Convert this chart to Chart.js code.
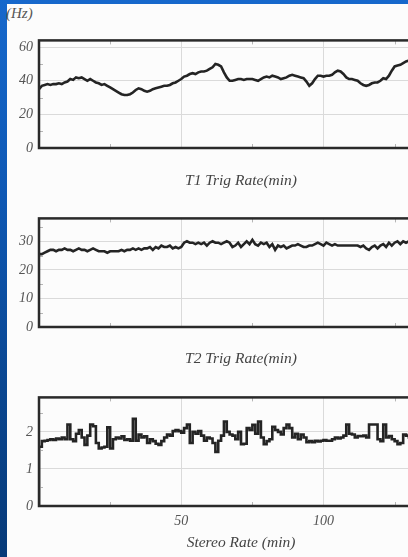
<!DOCTYPE html>
<html lang="en">
<head>
<meta charset="UTF-8">
<title>Trigger Rates</title>
<script src="https://cdn.jsdelivr.net/npm/chart.js"></script>
<style>
    html, body { margin: 0; padding: 0; }
    body {
        width: 408px; height: 557px; overflow: hidden; position: relative;
        background: linear-gradient(to bottom, #1668cc 0%, #0e58b4 35%, #0a4690 70%, #073a78 100%);
    }
    #sheet { position: absolute; left: 7px; top: 4px; right: 0; bottom: 0; background: #fcfcfc; }
    canvas { position: absolute; left: 7px; }
    #unit { position: absolute; left: 6px; top: 5px; font: italic 15px "Liberation Serif", serif; color: #555; }
</style>
</head>
<body>
    <div id="sheet"></div>
    <div id="unit">(Hz)</div>
    <canvas id="t1Chart" width="436" height="166" style="top:26px"></canvas>
    <canvas id="t2Chart" width="436" height="166" style="top:204px"></canvas>
    <canvas id="stereoChart" width="436" height="171" style="top:383px"></canvas>

    <script>
        // time axis (minutes)
        const minutes = Array.from({ length: 133 }, (_, i) => i);
        const xMax = 142;
        const xLabelValues = [50, 100];
        const xGridValues = [50, 100];
        const xMinorValues = [25, 75, 125];

        // T1 trigger rate (Hz)
        const t1Rate = [
            35, 37, 37.5, 38, 37.5, 38, 38, 38.5, 38, 39,
            39.5, 41, 40.5, 42, 41.5, 42, 41, 40, 41, 40,
            39, 38.5, 37.5, 38, 37, 36, 35, 34, 33, 32,
            31.5, 31.5, 32, 33, 34.5, 35.5, 35, 34, 33.5, 34,
            35, 35.5, 36, 36.5, 37, 37, 37.5, 38.5, 39, 40,
            41, 42.5, 43, 44, 44.5, 44, 45, 45.5, 45.5, 46,
            47, 48, 50, 49.5, 48.5, 45, 42, 40, 40, 40.5,
            41, 41, 40.5, 41, 41, 41, 40.5, 40, 41, 42,
            42.5, 42, 43, 42.5, 42, 41, 41.5, 42, 43, 43.5,
            43, 42.5, 42, 41.5, 39.5, 37, 38.5, 41, 43, 43,
            42.5, 43, 43, 43.5, 45, 46, 45.5, 44, 42, 41,
            41, 40.5, 40, 38.5, 37.5, 37, 37.5, 38.5, 39, 39,
            40, 41.5, 41, 43, 46, 48.5, 49, 49.5, 50.5, 51.5,
            52, 52, 52.5
        ];

        // T2 trigger rate (Hz)
        const t2Rate = [
            25.5, 25.5, 26, 26.5, 27, 27, 26.5, 27, 27, 27.5,
            27, 27, 26.5, 27, 27.5, 27, 27, 26.5, 27, 27.5,
            27, 26.5, 26.5, 26.5, 26, 26.5, 26.5, 26.5, 26.5, 27,
            26.5, 27, 27, 27.5, 27, 27.5, 27, 27.5, 27.5, 28,
            27, 28, 27.5, 28.5, 28, 28, 28.5, 27.5, 28, 27.5,
            28, 29.5, 30, 29.5, 29.5, 29, 29.5, 29, 29.5, 28.5,
            29.5, 30, 29.5, 29.5, 29, 29.5, 30, 29.5, 28, 28.5,
            29.5, 28, 29, 30, 29, 30.5, 29, 28.5, 29.5, 29,
            29.5, 28, 29, 27, 28.5, 28, 28.5, 27.5, 28, 28.5,
            28.5, 29, 28.5, 28, 28, 28.5, 28.5, 29, 29.5, 29,
            28.5, 29.5, 29, 28.5, 29, 28.5, 28.5, 28.5, 28.5, 28.5,
            28.5, 28.5, 28.5, 28, 28.5, 27.5, 27, 28, 28.5, 27.5,
            28.5, 29, 28, 29.5, 28.5, 29.5, 30, 29, 30, 29.5,
            30, 30, 30
        ];

        // Stereo rate (Hz)
        const stereoRate = [
            0, 1.6, 1.75, 1.76, 1.78, 1.8, 1.78, 1.82, 1.8, 1.85,
            1.8, 2.2, 1.8, 1.75, 1.95, 2.05, 1.85, 1.65, 1.9, 2.2,
            2.15, 1.7, 1.55, 1.58, 1.6, 2.12, 1.55, 1.8, 1.85, 1.82,
            1.88, 1.78, 1.8, 1.76, 2.35, 1.76, 1.93, 1.85, 1.88, 1.7,
            1.8, 1.75, 1.68, 1.65, 1.75, 1.85, 1.93, 1.9, 2.02, 2.05,
            2.02, 1.98, 2.1, 2.2, 1.7, 2.0, 1.95, 2.02, 1.9, 1.76,
            1.85, 1.82, 1.7, 1.46, 1.76, 1.9, 2.28, 2.0, 1.93, 1.9,
            1.8, 2.0, 1.67, 1.68, 2.1, 2.05, 2.19, 1.95, 2.28, 1.85,
            1.67, 1.75, 1.8, 2.14, 2.05, 2.0, 1.93, 2.1, 2.2, 2.1,
            1.85, 1.95, 1.8, 1.93, 1.85, 1.72, 1.75, 1.72, 1.76, 1.74,
            1.76, 1.78, 1.76, 1.76, 1.8, 1.85, 1.82, 1.85, 1.9, 2.2,
            1.95, 1.93, 1.85, 1.89, 1.88, 1.9, 1.85, 2.2, 2.2, 2.2,
            1.8, 1.75, 2.2, 1.85, 1.89, 1.8, 1.75, 1.67, 1.7, 1.93,
            1.9, 1.85, 1.8
        ];

        const serif = '"Liberation Serif", "DejaVu Serif", serif';
        const tickFont = { family: serif, style: 'italic', size: 14 };
        const titleFont = { family: serif, style: 'italic', size: 15.5 };

        // dark frame around the plot plus small inner minor ticks
        const framePlugin = {
            id: 'frame',
            afterDatasetsDraw(chart, args, opts) {
                const { ctx, chartArea: a, scales } = chart;
                ctx.save();
                ctx.strokeStyle = '#b5b5b5';
                ctx.lineWidth = 1;
                ctx.beginPath();
                xMinorValues.forEach(v => {
                    const px = Math.round(scales.x.getPixelForValue(v)) + 0.5;
                    ctx.moveTo(px, a.bottom); ctx.lineTo(px, a.bottom - 4);
                    ctx.moveTo(px, a.top); ctx.lineTo(px, a.top + 4);
                });
                (opts.yMinor || []).forEach(v => {
                    const py = Math.round(scales.y.getPixelForValue(v)) + 0.5;
                    ctx.moveTo(a.left, py); ctx.lineTo(a.left + 4, py);
                });
                ctx.stroke();
                ctx.strokeStyle = '#2a2a2a';
                ctx.lineWidth = 2.5;
                ctx.strokeRect(a.left, a.top, a.right - a.left, a.bottom - a.top);
                ctx.restore();
            }
        };

        function makePanel(canvasId, values, cfg) {
            const points = minutes.map((m, i) => ({ x: m, y: values[i] }));
            return new Chart(document.getElementById(canvasId), {
                type: 'line',
                data: {
                    datasets: [{
                        data: points,
                        borderColor: '#242424',
                        borderWidth: 2.6,
                        pointRadius: 0,
                        tension: 0,
                        fill: false,
                        stepped: cfg.stepped || false
                    }]
                },
                options: {
                    responsive: false,
                    animation: false,
                    layout: { padding: { top: 10, right: 0, bottom: 0, left: 0 } },
                    plugins: {
                        legend: { display: false },
                        tooltip: { enabled: false },
                        frame: { yMinor: cfg.yMinor }
                    },
                    scales: {
                        x: {
                            type: 'linear',
                            min: 0,
                            max: xMax,
                            afterFit: s => { s.height = cfg.xHeight; },
                            border: { display: false },
                            grid: {
                                drawTicks: false,
                                color: c => (c.tick && xGridValues.includes(c.tick.value)) ? '#dadada' : 'rgba(0,0,0,0)'
                            },
                            ticks: {
                                display: cfg.xLabels,
                                stepSize: 25,
                                includeBounds: false,
                                autoSkip: false,
                                maxRotation: 0,
                                padding: 7,
                                color: '#555',
                                font: tickFont,
                                callback: v => xLabelValues.includes(v) ? String(v) : ''
                            },
                            title: {
                                display: true,
                                text: cfg.title,
                                color: '#444',
                                font: titleFont,
                                padding: { top: 0, bottom: 2 }
                            }
                        },
                        y: {
                            min: 0,
                            max: cfg.yMax,
                            afterFit: s => { s.width = 32; },
                            border: { display: false },
                            grid: { drawTicks: false, color: '#dadada' },
                            ticks: {
                                stepSize: cfg.yStep,
                                includeBounds: false,
                                padding: 6,
                                color: '#555',
                                font: tickFont
                            }
                        }
                    }
                },
                plugins: [framePlugin]
            });
        }

        makePanel('t1Chart', t1Rate, {
            title: 'T1 Trig Rate(min)', yMax: 64, yStep: 20, yMinor: [10, 30, 50],
            xHeight: 44, xLabels: false
        });
        makePanel('t2Chart', t2Rate, {
            title: 'T2 Trig Rate(min)', yMax: 38, yStep: 10, yMinor: [5, 15, 25, 35],
            xHeight: 43, xLabels: false
        });
        makePanel('stereoChart', stereoRate, {
            title: 'Stereo Rate (min)', yMax: 2.93, yStep: 1, yMinor: [0.5, 1.5, 2.5],
            xHeight: 48, xLabels: true, stepped: 'after'
        });
    </script>
</body>
</html>
